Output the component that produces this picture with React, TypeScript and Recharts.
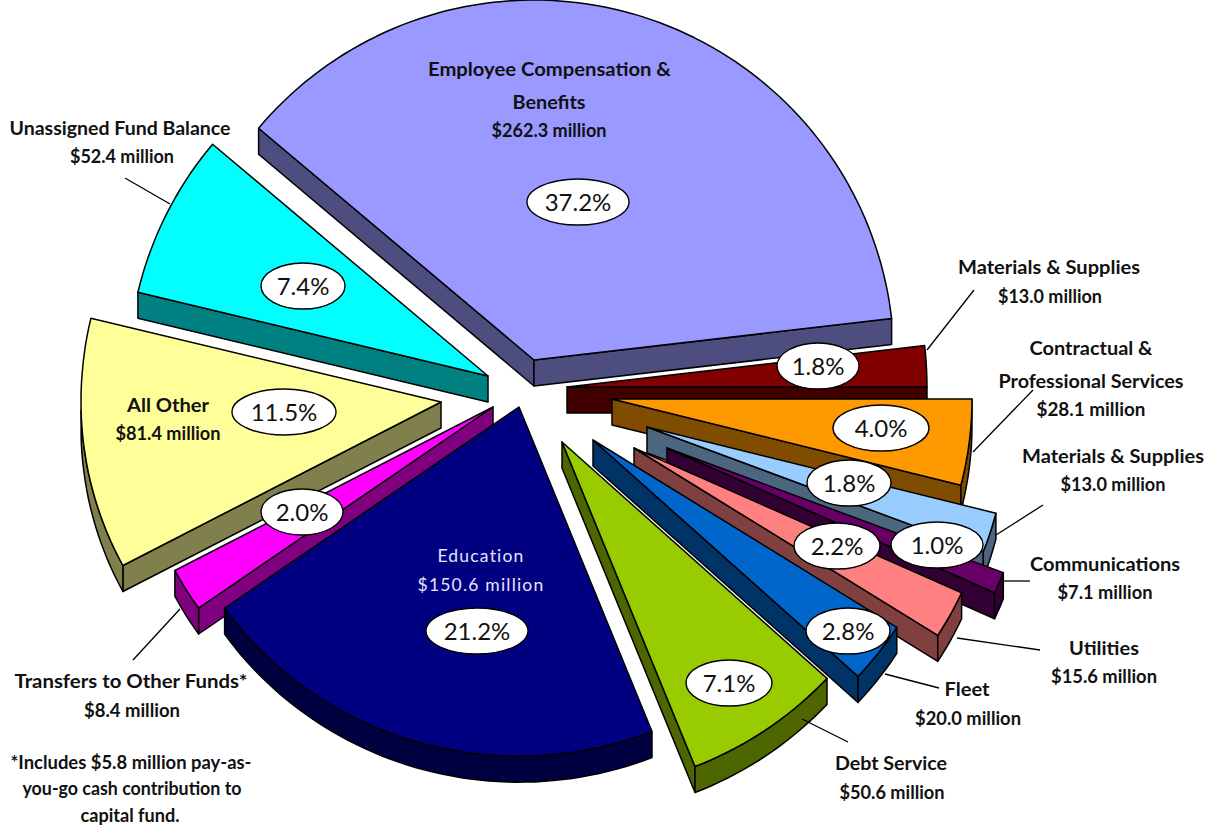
import { PieChart, Pie } from 'recharts';

const categories = [
  'Materials & Supplies A', 'Contractual & Professional Services', 'Materials & Supplies B', 'Communications',
  'Utilities', 'Fleet', 'Debt Service', 'Education', 'Transfers to Other Funds', 'All Other',
  'Unassigned Fund Balance', 'Employee Compensation & Benefits',
];
// transfers slice is plotted with the $5.8M pay-go contribution on top of the $8.4M
const amounts = [13.0, 28.1, 13.0, 7.1, 15.6, 20.0, 50.6, 150.6, 14.2, 81.4, 52.4, 262.3];
const percents = ['1.8%', '4.0%', '1.8%', '1.0%', '2.2%', '2.8%', '7.1%', '21.2%', '2.0%', '11.5%', '7.4%', '37.2%'];

const topColors = ['#800000', '#FF9900', '#99CCFF', '#660066', '#FF8080', '#0066CC', '#99CC00', '#000080', '#FF00FF', '#FFFF99', '#00FFFF', '#9999FF'];
const wallColors = ['#400000', '#804D00', '#4D6680', '#330033', '#804040', '#003366', '#4D6600', '#000040', '#800080', '#80804D', '#008080', '#4D4D80'];

// how far each slice is pulled away from the pie centre
const exploded = [[37, 2], [82, 14], [117, 42], [137, 63], [104, 63], [63, 55], [32, 57], [-11, 22], [-37, 22], [-89, 17], [-42, -9], [4, -25]];
// painter's order, back to front
const drawOrder = [11, 10, 9, 8, 7, 0, 1, 2, 3, 4, 5, 6];

const table = categories.map((name, i) => ({ name, value: amounts[i] }));

const CX = 530;
const CY = 385;
const RADIUS = 360;
const DEPTH = 26;
const LOWER_SQUASH = 0.97;

const labelFont = 'Lato, sans-serif';

const pctBubbles = [
  { i: 0, x: 818, y: 366, rx: 41 },
  { i: 1, x: 881, y: 428, rx: 48 },
  { i: 2, x: 849, y: 483, rx: 42 },
  { i: 3, x: 937, y: 545, rx: 46 },
  { i: 4, x: 837, y: 546, rx: 43 },
  { i: 5, x: 848, y: 631, rx: 42 },
  { i: 6, x: 729, y: 683, rx: 43 },
  { i: 7, x: 477, y: 631, rx: 51 },
  { i: 8, x: 302, y: 512, rx: 41 },
  { i: 9, x: 284, y: 412, rx: 52 },
  { i: 10, x: 303, y: 286, rx: 42 },
  { i: 11, x: 578, y: 202, rx: 51 },
];

// text, centre x, baseline y, width on the page
const textLines: [string, number, number, number][] = [
  ['Employee Compensation &', 549.5, 76, 243],
  ['Benefits', 549, 109, 73],
  ['$262.3 million', 549, 137, 115],
  ['Unassigned Fund Balance', 120, 135, 221],
  ['$52.4 million', 122, 163, 104],
  ['Materials & Supplies', 1049, 274, 182],
  ['$13.0 million', 1050, 303, 104],
  ['Contractual &', 1091, 355, 123],
  ['Professional Services', 1091, 388, 185],
  ['$28.1 million', 1091, 416, 109],
  ['Materials & Supplies', 1113, 463, 182],
  ['$13.0 million', 1113, 491, 105],
  ['Communications', 1105, 571, 150],
  ['$7.1 million', 1105, 599, 95],
  ['Utilities', 1104, 655, 70],
  ['$15.6 million', 1104, 683, 106],
  ['Fleet', 967, 696, 45],
  ['$20.0 million', 968, 725, 106],
  ['Debt Service', 891, 770, 112],
  ['$50.6 million', 892, 799, 105],
  ['All Other', 168, 412, 82],
  ['$81.4 million', 168, 440, 105],
  ['Transfers to Other Funds*', 131, 688, 233],
  ['$8.4 million', 132, 717, 96],
  ['*Includes $5.8 million pay-as-', 131, 769, 241],
  ['you-go cash contribution to', 132, 795, 219],
  ['capital fund.', 130, 822, 99],
];

const leaders = [
  [125, 178, 170, 204],
  [974, 290, 927, 350],
  [1033, 390, 973, 452],
  [1043, 505, 996, 535],
  [1003, 581, 1030, 581],
  [957, 638, 1040, 650],
  [885, 674, 939, 688],
  [802, 719, 848, 742],
  [180, 609, 133, 660],
];

type Pt = [number, number];

function Slice(props: any) {
  const { index, cx, cy, outerRadius, startAngle, endAngle } = props;
  const [dx, dy] = exploded[index];
  const tipX = cx + dx;
  const tipY = cy + dy;

  const pt = (deg: number): Pt => {
    const rad = (deg * Math.PI) / 180;
    const s = Math.sin(rad);
    return [tipX + outerRadius * Math.cos(rad), tipY - outerRadius * s * (s < 0 ? LOWER_SQUASH : 1)];
  };

  const steps = Math.max(2, Math.ceil(Math.abs(endAngle - startAngle) / 1.5));
  const angles: number[] = [];
  for (let k = 0; k <= steps; k++) angles.push(startAngle + ((endAngle - startAngle) * k) / steps);
  const arc = angles.map(pt);

  const first = arc[0];
  const last = arc[arc.length - 1];
  const line = (pts: Pt[]) => pts.map(([x, y], k) => `${k ? 'L' : 'M'}${x.toFixed(1)} ${y.toFixed(1)}`).join(' ') + ' Z';

  // a radial wall only shows when the top face lies above that edge
  const faces = (corner: Pt, other: Pt) => {
    const ex = corner[0] - tipX;
    const ey = corner[1] - tipY;
    const down = ex * DEPTH;
    const inside = ex * (other[1] - tipY) - ey * (other[0] - tipX);
    return down * inside < 0;
  };

  // the rim only shows along the lower half of the circle
  const lowerArc = arc.filter((_, k) => Math.sin((angles[k] * Math.PI) / 180) <= 0.001);

  const wall = wallColors[index];
  const edge = { stroke: '#000', strokeWidth: 1.5, strokeLinejoin: 'round' as const };

  return (
    <g>
      {faces(first, last) && <path d={line([[tipX, tipY], first, [first[0], first[1] + DEPTH], [tipX, tipY + DEPTH]])} fill={wall} {...edge} />}
      {faces(last, first) && <path d={line([[tipX, tipY], last, [last[0], last[1] + DEPTH], [tipX, tipY + DEPTH]])} fill={wall} {...edge} />}
      {lowerArc.length > 1 && (
        <path d={line([...lowerArc, ...[...lowerArc].reverse().map(([x, y]) => [x, y + DEPTH] as Pt)])} fill={wall} {...edge} />
      )}
      <path d={line([[tipX, tipY], ...arc])} fill={topColors[index]} {...edge} />
    </g>
  );
}

export default function App() {
  return (
    <div style={{ position: 'absolute', left: 0, top: 0, width: 1210, height: 825, background: '#fff' }}>
      <PieChart width={1210} height={825} margin={{ top: 0, right: 0, bottom: 0, left: 0 }}>
        {drawOrder.map((sliceIndex) => (
          <Pie
            key={sliceIndex}
            data={table}
            dataKey="value"
            nameKey="name"
            cx={CX}
            cy={CY}
            innerRadius={0}
            outerRadius={RADIUS}
            startAngle={6.6}
            endAngle={-353.4}
            rootTabIndex={-1}
            isAnimationActive={false}
            shape={(p: any) => (p.index === sliceIndex ? <Slice {...p} /> : <g />)}
          />
        ))}
      </PieChart>

      <svg width={1210} height={825} style={{ position: 'absolute', left: 0, top: 0, pointerEvents: 'none' }}>
        {leaders.map(([x1, y1, x2, y2], i) => (
          <line key={i} x1={x1} y1={y1} x2={x2} y2={y2} stroke="#000" strokeWidth={1.3} />
        ))}
        {pctBubbles.map((b) => (
          <g key={b.i}>
            <ellipse cx={b.x} cy={b.y} rx={b.rx} ry={23} fill="#fff" stroke="#000" strokeWidth={1.4} />
            <text x={b.x} y={b.y + 9} textAnchor="middle" fontFamily={labelFont} fontSize={24} fill="#111">
              {percents[b.i]}
            </text>
          </g>
        ))}
        {textLines.map(([t, x, y, w], i) => (
          <text key={i} x={x} y={y} textAnchor="middle" fontFamily={labelFont} fontWeight={700} fontSize={19} textLength={w} lengthAdjust="spacingAndGlyphs" fill="#111">
            {t}
          </text>
        ))}
        <text x={481} y={562} textAnchor="middle" fontFamily={labelFont} fontSize={17.5} letterSpacing={1.2} fill="#E4E4FF">Education</text>
        <text x={481} y={591} textAnchor="middle" fontFamily={labelFont} fontSize={17.5} letterSpacing={1.2} fill="#E4E4FF">$150.6 million</text>
      </svg>
    </div>
  );
}
